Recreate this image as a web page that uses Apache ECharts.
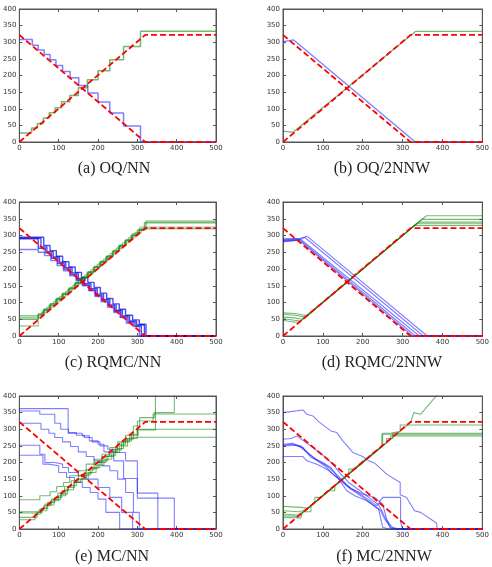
<!DOCTYPE html>
<html>
<head>
<meta charset="utf-8">
<script src="https://cdn.jsdelivr.net/npm/echarts@6/dist/echarts.min.js"></script>
<style>
html, body { margin: 0; padding: 0; background: #fff; }
#chart { width: 492px; height: 567px; }
</style>
</head>
<body>
<div id="chart"></div>
<script>
// reference (red dashed) lines, same in every panel
var refDown = [[0, 322], [320, 0], [500, 0]];
var refUp = [[0, 0], [320, 322], [500, 322]];

// (a) OQ/NN  - step lines
var aBlue = [[0,308],[33,291],[48,277],[63,263],[78,247],[93,230],[110,212],[129,193],[151,170],[174,147],[200,120],[230,87],[265,48],[308,0],[500,0]];
var aGreen = [[0,27],[31,42],[46,56],[61,72],[76,88],[91,103],[107,121],[128,140],[150,163],[173,187],[200,214],[230,247],[265,287],[308,333],[500,333]];

// (b) OQ/2NNW
var bBlue = [[0,302],[27,307],[332,0],[500,0]];
var bGreen = [[0,33],[25,29],[333,333],[500,333]];

// (c) RQMC/NN - step lines
var cBlue1 = [[0,295],[62,270],[78,255],[94,238],[110,222],[126,206],[142,190],[158,175],[174,160],[190,145],[206,128],[222,112],[238,96],[254,80],[270,62],[288,48],[305,35],[322,0],[500,0]];
var cBlue2 = [[0,290],[48,262],[66,248],[82,232],[98,216],[114,200],[130,184],[146,168],[162,152],[178,137],[194,121],[210,105],[226,90],[242,74],[258,57],[276,42],[294,30],[310,0],[500,0]];
var cBlue3 = [[0,258],[48,250],[64,240],[80,225],[96,210],[112,195],[128,180],[144,165],[160,150],[176,135],[192,118],[208,102],[224,86],[240,70],[256,55],[272,38],[290,28],[305,0],[500,0]];
var cBlue4 = [[0,292],[55,266],[70,252],[86,236],[102,220],[118,204],[134,188],[150,172],[166,156],[182,141],[198,125],[214,109],[230,93],[246,77],[262,60],[280,45],[298,33],[318,0],[500,0]];
var cGreen1 = [[0,50],[48,66],[62,80],[78,96],[94,112],[110,127],[126,143],[142,159],[158,175],[174,191],[190,207],[206,222],[222,238],[238,254],[254,270],[270,286],[286,302],[304,318],[322,343],[500,343]];
var cGreen2 = [[0,60],[46,62],[60,76],[76,92],[92,108],[108,124],[124,140],[140,156],[156,172],[172,188],[188,204],[204,220],[220,236],[236,252],[252,268],[268,284],[284,300],[300,316],[318,338],[500,338]];
var cGreen3 = [[0,30],[48,64],[64,80],[80,96],[96,112],[112,128],[128,144],[144,160],[160,176],[176,192],[192,208],[208,224],[224,240],[240,256],[256,272],[272,288],[288,306],[306,325],[500,325]];
var cGreen4 = [[0,55],[56,70],[70,86],[86,102],[102,118],[118,134],[134,150],[150,166],[166,182],[182,198],[198,214],[214,230],[230,246],[246,262],[262,278],[278,294],[294,308],[310,320],[500,320]];

// (d) RQMC/2NNW
var dBlue1 = [[0,290],[45,292],[60,298],[362,0],[500,0]];
var dBlue2 = [[0,287],[45,290],[55,294],[352,0],[500,0]];
var dBlue3 = [[0,285],[45,288],[50,291],[342,0],[500,0]];
var dBlue4 = [[0,283],[42,287],[332,0],[500,0]];
var dBlue5 = [[0,281],[40,286],[325,0],[500,0]];
var dGreen1 = [[0,69],[30,67],[54,62],[62,62],[320,320],[360,359],[500,359]];
var dGreen2 = [[0,65],[30,62],[52,57],[58,58],[320,320],[348,348],[500,348]];
var dGreen3 = [[0,57],[28,54],[48,50],[52,52],[320,320],[340,340],[500,340]];
var dGreen4 = [[0,52],[28,47],[45,45],[320,320],[335,335],[500,335]];
var dGreen5 = [[0,47],[25,42],[42,42],[320,320],[330,330],[500,330]];

// (e) MC/NN - step lines
var eBlue1 = [[0,362],[124,288],[160,280],[178,265],[200,255],[215,232],[240,205],[265,152],[300,93],[394,0],[500,0]];
var eBlue2 = [[0,355],[52,345],[90,318],[105,300],[125,290],[145,282],[165,275],[185,262],[205,250],[225,240],[245,230],[270,205],[300,108],[352,0],[500,0]];
var eBlue3 = [[0,318],[55,300],[75,288],[90,275],[110,262],[130,248],[150,232],[170,218],[190,205],[210,190],[230,175],[250,150],[270,110],[290,50],[305,0],[500,0]];
var eBlue4 = [[0,252],[52,225],[65,200],[90,195],[110,185],[125,170],[150,160],[170,150],[200,125],[230,95],[260,50],[288,0],[500,0]];
var eBlue5 = [[0,222],[60,195],[75,190],[100,170],[120,155],[140,140],[160,125],[180,110],[200,90],[220,50],[255,0],[500,0]];
var eGreen1 = [[0,88],[52,100],[78,112],[95,128],[112,140],[128,160],[150,175],[170,195],[190,210],[210,225],[230,245],[250,262],[270,282],[302,298],[346,420],[500,420]];
var eGreen2 = [[0,52],[55,62],[65,75],[82,90],[98,108],[115,128],[132,145],[150,160],[170,178],[190,200],[210,218],[230,232],[250,255],[270,270],[290,310],[306,335],[343,350],[394,420],[500,420]];
var eGreen3 = [[0,48],[50,58],[62,70],[80,85],[100,100],[118,118],[138,140],[155,150],[175,170],[195,192],[215,210],[235,230],[255,250],[275,272],[300,325],[340,346],[500,346]];
var eGreen4 = [[0,35],[45,50],[58,62],[72,80],[90,95],[108,115],[125,130],[145,150],[165,168],[185,185],[205,205],[225,222],[245,242],[265,265],[285,285],[300,300],[500,300]];
var eGreen5 = [[0,28],[40,45],[55,55],[70,72],[88,88],[105,105],[122,125],[140,142],[160,162],[180,182],[200,200],[220,218],[240,238],[260,262],[280,276],[500,276]];

// (f) MC/2NNW
var fBlue1 = [[0,350],[50,358],[60,345],[75,340],[90,322],[120,295],[135,290],[150,265],[165,245],[175,230],[200,218],[215,205],[230,198],[260,165],[294,140],[294,103],[310,95],[330,55],[345,50],[385,18],[387,0],[500,0]];
var fBlue2 = [[0,270],[20,272],[35,280],[55,262],[75,245],[100,222],[125,195],[145,165],[165,140],[190,118],[215,95],[240,72],[250,50],[260,25],[275,5],[290,0],[500,0]];
var fBlue3 = [[0,252],[20,255],[45,250],[55,238],[80,210],[105,190],[130,160],[145,145],[170,120],[195,100],[220,78],[245,55],[255,30],[270,5],[280,0],[500,0]];
var fBlue4 = [[0,250],[30,252],[50,245],[70,215],[100,200],[120,185],[140,150],[160,115],[180,100],[210,85],[240,60],[250,5],[265,0],[500,0]];
var fBlue5 = [[0,218],[50,218],[60,205],[85,195],[110,180],[130,160],[150,145],[170,122],[200,105],[230,95],[250,75],[260,30],[270,0],[500,0]];
var fBlue6 = [[0,255],[25,258],[45,245],[65,225],[90,205],[115,185],[140,158],[160,130],[185,112],[210,92],[235,70],[250,95],[295,95],[295,20],[300,0],[500,0]];
var fGreen1 = [[0,68],[45,65],[62,62],[80,80],[80,95],[95,95],[120,122],[150,150],[175,178],[200,205],[230,232],[250,250],[250,288],[270,288],[294,294],[294,313],[500,313]];
var fGreen2 = [[0,55],[40,52],[58,58],[85,85],[100,100],[125,125],[150,152],[165,165],[165,180],[180,180],[205,205],[235,235],[260,260],[260,272],[275,272],[275,288],[500,288]];
var fGreen3 = [[0,45],[35,42],[52,52],[70,70],[70,52],[52,52],[75,75],[110,110],[140,140],[160,160],[190,190],[220,220],[248,248],[248,285],[500,285]];
var fGreen4 = [[0,40],[40,38],[50,50],[100,100],[130,130],[130,115],[115,115],[145,145],[210,210],[250,250],[270,270],[270,280],[500,280]];
var fGreen5 = [[0,35],[45,33],[48,48],[90,90],[120,120],[160,160],[200,200],[240,240],[280,280],[320,320],[328,350],[345,345],[388,405]];

var captions = ['(a) OQ/NN', '(b) OQ/2NNW', '(c) RQMC/NN', '(d) RQMC/2NNW', '(e) MC/NN', '(f) MC/2NNW'];

var dom = document.getElementById('chart');
var myChart = echarts.init(dom);

var BLUE = 'rgba(0,0,255,0.5)';
var BLUE_DARK = 'rgba(0,0,230,0.7)';
var GREEN = 'rgba(0,128,0,0.55)';
var GREEN_LIGHT = 'rgba(0,128,0,0.38)';
var RED = '#ff0000';

var grids = [
    {left: 15, top: 9, width: 201, height: 133},
    {left: 283, top: 9, width: 201, height: 133},
    {left: 15, top: 202, width: 201, height: 134},
    {left: 283, top: 202, width: 201, height: 134},
    {left: 15, top: 396, width: 201, height: 133},
    {left: 283, top: 396, width: 201, height: 133}
];
var captionPos = [[114, 169], [382, 169], [113, 363], [382, 363], [112, 557], [384, 557]];

var xAxes = [], yAxes = [];
function axis(g, pos, labels, isX) {
    return {
        gridIndex: g,
        type: 'value',
        position: pos,
        min: 0,
        max: isX ? 500 : 400,
        interval: isX ? 100 : 50,
        axisLine: {show: true, onZero: false, lineStyle: {color: '#555', width: 1}},
        axisTick: {show: true, inside: true, length: 3, lineStyle: {color: '#555'}},
        axisLabel: {show: labels, fontSize: 7, color: '#333', margin: 3, fontFamily: 'DejaVu Sans'},
        splitLine: {show: false}
    };
}
for (var g = 0; g < 6; g++) {
    xAxes.push(axis(g, 'bottom', true, true));
    yAxes.push(axis(g, 'left', true, false));
}
for (var g = 0; g < 6; g++) {
    xAxes.push(axis(g, 'top', false, true));
    yAxes.push(axis(g, 'right', false, false));
}

var series = [];
function addLine(g, data, color, width, step, dashed) {
    series.push({
        type: 'line',
        xAxisIndex: g,
        yAxisIndex: g,
        data: data,
        step: step ? 'end' : false,
        symbol: 'none',
        clip: true,
        silent: true,
        animation: false,
        z: dashed ? 5 : 2,
        lineStyle: {color: color, width: width, type: dashed ? [6, 3] : 'solid'}
    });
}

// (a)
addLine(0, aBlue, BLUE, 1.5, true);
addLine(0, aGreen, GREEN, 1.5, true);
// (b)
addLine(1, bBlue, BLUE, 1.3, false);
addLine(1, bGreen, GREEN, 1.3, false);
// (c)
[cBlue3, cBlue2, cBlue4, cBlue1].forEach(function (d, i) {
    addLine(2, d, i === 0 ? BLUE : BLUE_DARK, 1.4, true);
});
[cGreen3, cGreen4, cGreen2, cGreen1].forEach(function (d, i) {
    addLine(2, d, i < 2 ? GREEN_LIGHT : GREEN, 1.4, true);
});
// (d)
[dBlue1, dBlue2, dBlue3, dBlue4, dBlue5].forEach(function (d) {
    addLine(3, d, BLUE, 1.1, false);
});
[dGreen1, dGreen2, dGreen3, dGreen4, dGreen5].forEach(function (d) {
    addLine(3, d, GREEN, 1.1, false);
});
// (e)
[eBlue1, eBlue2, eBlue3, eBlue4, eBlue5].forEach(function (d) {
    addLine(4, d, BLUE, 1.1, true);
});
[eGreen1, eGreen2, eGreen3, eGreen4, eGreen5].forEach(function (d) {
    addLine(4, d, GREEN, 1.1, true);
});
// (f)
[fBlue1, fBlue2, fBlue3, fBlue4, fBlue5, fBlue6].forEach(function (d) {
    addLine(5, d, BLUE, 1.1, false);
});
[fGreen1, fGreen2, fGreen3, fGreen4, fGreen5].forEach(function (d) {
    addLine(5, d, GREEN, 1.1, false);
});
// red reference in every panel
for (var g = 0; g < 6; g++) {
    addLine(g, refDown, RED, 1.8, false, true);
    addLine(g, refUp, RED, 1.8, false, true);
}

var graphic = captions.map(function (t, i) {
    return {
        type: 'text',
        x: captionPos[i][0],
        y: captionPos[i][1],
        style: {
            text: t,
            fill: '#222',
            font: '16px "Liberation Serif"',
            align: 'center',
            verticalAlign: 'middle'
        }
    };
});

option = {
    backgroundColor: '#fff',
    animation: false,
    grid: grids.map(function (r) {
        return {left: r.left, top: r.top, width: r.width, height: r.height, show: true, borderColor: '#555', borderWidth: 1, backgroundColor: '#fff'};
    }),
    xAxis: xAxes,
    yAxis: yAxes,
    series: series,
    graphic: graphic
};

if (option && typeof option === "object") {
    myChart.setOption(option, true);
}
</script>
</body>
</html>
